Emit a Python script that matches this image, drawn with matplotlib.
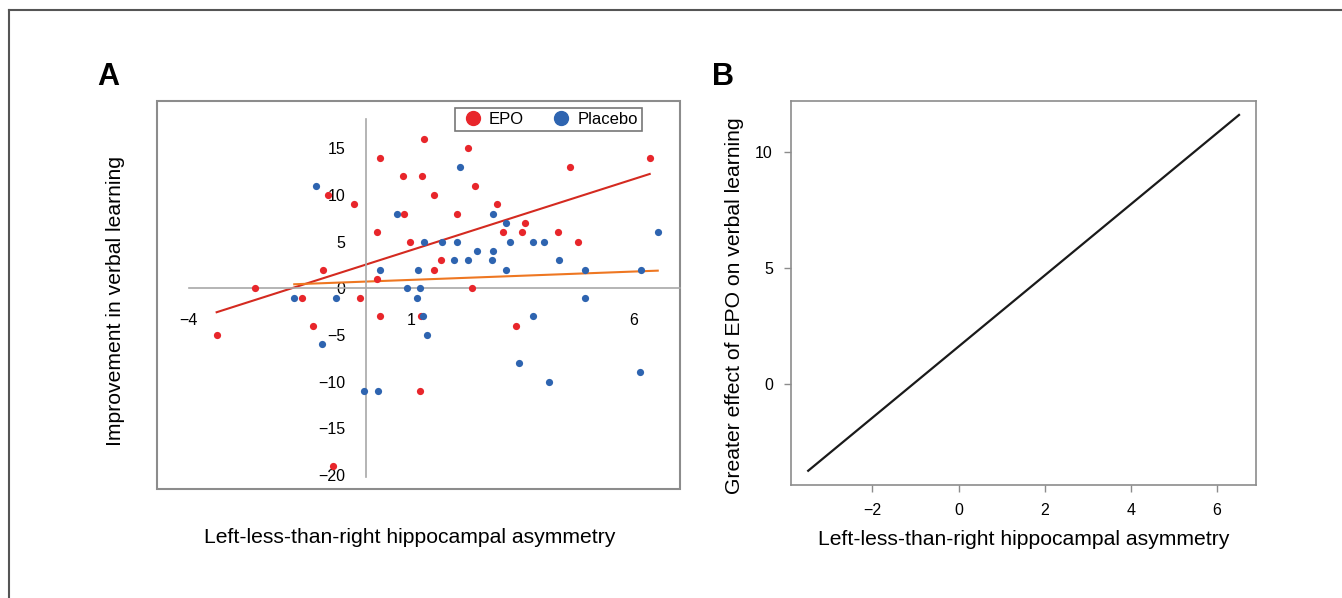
import numpy as np
import matplotlib
matplotlib.use("Agg")
import matplotlib.pyplot as plt
from matplotlib.lines import Line2D
from matplotlib.patches import Rectangle

plt.rcParams['font.family'] = ['Liberation Sans', 'DejaVu Sans']

# Panel A - EPO group (asymmetry, improvement)
epo_x = [-0.86, -0.29, 1.29, 0.30, 0.81, 1.24, 0.84, 0.23, 0.97, -0.97,
         0.23, -2.49, 2.27, 4.56, 6.35, 2.43, 1.51, 2.92, 2.04, 3.55,
         3.06, 3.49, 4.29, 4.74, 1.66, 1.51, 2.37, -1.45, -0.14, 0.31,
         1.22, -1.21, -3.36, 1.20, -0.75, 3.35]
epo_y = [10, 9, 16, 14, 12, 12, 8, 6, 5, 2,
         1, 0, 15, 13, 14, 11, 10, 9, 8, 7,
         6, 6, 6, 5, 3, 2, 0, -1, -1, -3,
         -3, -4, -5, -11, -19, -4]

# Panel A - Placebo group
placebo_x = [-1.14, 0.68, 1.30, 0.30, 1.15, 0.90, 1.19, 2.09, 2.83, 3.13,
             6.53, 1.69, 2.03, 3.21, 3.73, 3.97, 2.47, 2.83, 1.96, 2.27,
             2.81, 4.32, 3.13, 4.89, 6.15, -1.62, -0.69, 1.13, 1.27, -0.99,
             1.36, -0.06, 0.25, 4.91, 3.73, 3.43, 4.09, 6.13]
placebo_y = [11, 8, 5, 2, 2, 0, 0, 13, 8, 7,
             6, 5, 5, 5, 5, 5, 4, 4, 3, 3,
             3, 3, 2, 2, 2, -1, -1, -1, -3, -6,
             -5, -11, -11, -1, -3, -8, -10, -9]

# trend lines (slope, intercept)
epo_fit = (1.526, 2.56)
placebo_fit = (0.179, 0.72)

a_xticks = [-4, 1, 6]
a_yticks = [-20, -15, -10, -5, 0, 5, 10, 15]

# Panel B - difference line (slope, intercept) and its x range
b_fit = (1.536, 1.61)
b_xrange = (-3.49, 6.51)
b_xticks = [-2, 0, 2, 4, 6]
b_yticks = [0, 5, 10]

red = '#e8262b'
blue = '#2e64b0'

fig = plt.figure(figsize=(13.42, 5.98), dpi=100)

# ---------- panel A ----------
axA = fig.add_axes([0.117, 0.1823, 0.3897, 0.6488])
axA.set_xlim(-4.697, 7.029)
axA.set_ylim(-21.51, 20.07)
axA.spines['top'].set_visible(False)
axA.spines['right'].set_visible(False)
axA.spines['left'].set_position(('data', 0))
axA.spines['bottom'].set_position(('data', 0))
axA.spines['left'].set_bounds(-20.2, 18.15)
axA.spines['bottom'].set_bounds(-3.98, 7.03)
for s in ['left', 'bottom']:
    axA.spines[s].set_color('#a8a8a8')
    axA.spines[s].set_linewidth(1.2)
axA.add_patch(Rectangle((0, 0), 1, 1, transform=axA.transAxes, fill=False,
                        ec='#8c8c8c', lw=1.5, clip_on=False))

axA.set_xticks(a_xticks)
axA.set_yticks(a_yticks)
axA.tick_params(axis='x', length=0, pad=18, labelsize=11.5)
axA.tick_params(axis='y', length=0, pad=15, labelsize=11.5)

for (k, b), xs, col in [(epo_fit, epo_x, '#d42a20'), (placebo_fit, placebo_x, '#ee7722')]:
    xr = np.array([min(xs), max(xs)])
    axA.plot(xr, k * xr + b, color=col, lw=1.5, zorder=2)

axA.scatter(epo_x, epo_y, s=27, color=red, zorder=3, linewidths=0)
axA.scatter(placebo_x, placebo_y, s=27, color=blue, zorder=3, linewidths=0)

handles = [Line2D([], [], marker='o', ls='', color=red, markersize=10, label='EPO'),
           Line2D([], [], marker='o', ls='', color=blue, markersize=10, label='Placebo')]
leg = axA.legend(handles=handles, ncol=2, loc='upper right',
                 bbox_to_anchor=(0.927, 0.983), borderaxespad=0,
                 fancybox=False, edgecolor='#555555', fontsize=12,
                 handletextpad=0.1, columnspacing=1.4, borderpad=0.25,
                 handlelength=1.7)
leg.get_frame().set_linewidth(1.2)

axA.set_ylabel('Improvement in verbal learning', fontsize=15.2)
axA.yaxis.set_label_coords(-0.061, 0.485)
axA.set_xlabel('Left-less-than-right hippocampal asymmetry', fontsize=15.2)
axA.xaxis.set_label_coords(0.4837, -0.1)

# ---------- panel B ----------
axB = fig.add_axes([0.5894, 0.189, 0.3467, 0.6426])
bx = np.array(b_xrange)
by = b_fit[0] * bx + b_fit[1]
axB.plot(bx, by, color='#1a1a1a', lw=1.6)
padx = 0.04 * (bx.max() - bx.min())
pady = 0.04 * (by.max() - by.min())
axB.set_xlim(bx.min() - padx, bx.max() + padx)
axB.set_ylim(by.min() - pady, by.max() + pady)
axB.set_xticks(b_xticks)
axB.set_yticks(b_yticks)
for s in axB.spines.values():
    s.set_color('#8c8c8c')
    s.set_linewidth(1.2)
axB.tick_params(direction='out', length=5, width=1, color='#8c8c8c',
                labelsize=11.5, pad=8)
axB.set_ylabel('Greater effect of EPO on verbal learning', fontsize=15.2)
axB.yaxis.set_label_coords(-0.102, 0.467)
axB.set_xlabel('Left-less-than-right hippocampal asymmetry', fontsize=15.2)
axB.xaxis.set_label_coords(0.5, -0.117)

# panel letters and outer border
fig.text(97 / 1342, 1 - 85 / 598, 'A', fontsize=22, fontweight='bold', va='baseline')
fig.text(712 / 1342, 1 - 85 / 598, 'B', fontsize=22, fontweight='bold', va='baseline')
fig.add_artist(Line2D([9 / 1342, 1], [1 - 10 / 598, 1 - 10 / 598],
                      transform=fig.transFigure, color='#555555', lw=1.5))
fig.add_artist(Line2D([9 / 1342, 9 / 1342], [0, 1 - 10 / 598],
                      transform=fig.transFigure, color='#555555', lw=1.5))

fig.savefig('out.png', dpi=100)
